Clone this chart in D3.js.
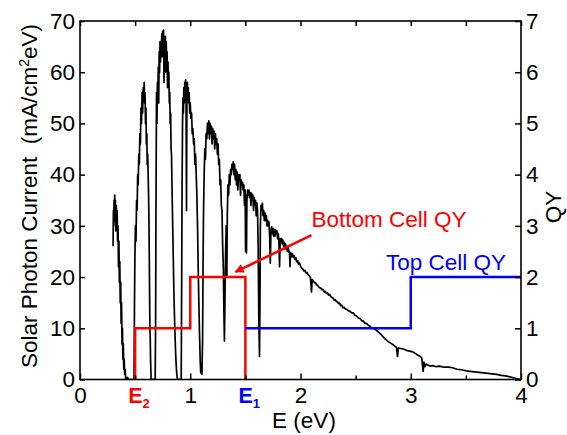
<!DOCTYPE html>
<html>
<head>
<meta charset="utf-8">
<script src="https://cdn.jsdelivr.net/npm/d3@7"></script>
<style>
  html, body { margin: 0; padding: 0; background: #fff; }
  svg { display: block; font-family: 'Liberation Sans', Arial, sans-serif; }
</style>
</head>
<body>
<svg id="chart" width="567" height="435"></svg>
<script>
// AM1.5 photon current, [E (eV), mA/cm2eV]
const solarSpectrum = [
  [0.300, 26], [0.303, 33], [0.306, 30], [0.309, 35], [0.312, 31], [0.315, 36], [0.318, 33], [0.321, 35],
  [0.325, 29], [0.329, 34], [0.333, 31], [0.337, 33], [0.341, 27], [0.345, 30], [0.349, 22], [0.353, 27],
  [0.357, 19], [0.361, 23], [0.365, 15], [0.369, 19], [0.373, 11], [0.377, 15], [0.381, 7], [0.385, 10],
  [0.389, 4], [0.393, 7], [0.397, 2], [0.401, 4], [0.405, 1], [0.410, 2], [0.415, 0], [0.430, 0.4],
  [0.440, 0], [0.490, 0],
  [0.494, 14], [0.498, 24], [0.503, 30], [0.508, 27], [0.513, 35], [0.518, 33], [0.523, 40], [0.528, 38],
  [0.533, 44], [0.538, 42], [0.543, 48], [0.548, 46], [0.553, 53], [0.558, 50], [0.563, 56], [0.568, 52],
  [0.573, 57], [0.578, 55], [0.582, 58], [0.586, 54], [0.590, 56], [0.594, 50], [0.598, 53], [0.602, 46],
  [0.606, 48], [0.610, 42], [0.614, 44], [0.618, 40], [0.622, 36], [0.626, 30], [0.630, 20], [0.634, 10],
  [0.637, 8], [0.640, 4], [0.645, 0], [0.682, 0],
  [0.686, 12], [0.690, 38], [0.694, 56], [0.698, 50], [0.702, 58], [0.706, 55], [0.710, 61], [0.714, 54],
  [0.718, 64], [0.722, 60], [0.726, 66], [0.730, 62], [0.734, 66], [0.738, 64], [0.742, 67.5], [0.746, 63],
  [0.750, 68], [0.754, 65], [0.758, 68.2], [0.762, 58], [0.766, 67], [0.770, 64], [0.774, 67], [0.778, 60],
  [0.782, 66], [0.786, 62], [0.790, 64], [0.794, 57], [0.798, 62], [0.802, 58], [0.806, 60], [0.810, 54],
  [0.814, 56], [0.818, 50], [0.822, 52], [0.826, 45], [0.830, 44], [0.835, 37], [0.840, 31], [0.845, 25],
  [0.850, 19], [0.855, 14], [0.860, 10], [0.866, 6], [0.872, 3], [0.878, 1], [0.884, 0], [0.918, 0],
  [0.922, 18], [0.926, 38], [0.930, 50], [0.934, 55], [0.938, 52], [0.942, 57], [0.946, 54], [0.950, 58],
  [0.954, 56], [0.958, 58.5], [0.962, 55], [0.966, 33], [0.970, 57], [0.974, 58], [0.978, 55], [0.982, 57],
  [0.986, 54], [0.990, 56], [0.995, 52], [1.000, 54], [1.006, 51], [1.012, 52], [1.018, 48], [1.024, 49],
  [1.030, 46], [1.036, 47], [1.042, 42], [1.048, 44], [1.054, 40], [1.060, 36], [1.066, 30], [1.072, 22],
  [1.078, 15], [1.084, 9], [1.090, 4], [1.095, 1.3], [1.100, 3], [1.106, 1], [1.112, 8],
  [1.116, 22], [1.120, 32], [1.126, 40], [1.132, 45], [1.138, 43], [1.144, 48], [1.150, 47], [1.156, 50],
  [1.162, 48], [1.168, 50.5], [1.174, 47], [1.180, 50], [1.186, 48], [1.192, 49.5], [1.198, 46], [1.204, 49],
  [1.210, 47], [1.216, 48.5], [1.222, 45], [1.228, 48], [1.234, 46], [1.240, 47], [1.246, 44], [1.252, 46],
  [1.258, 42], [1.264, 43], [1.270, 38], [1.276, 39], [1.282, 34], [1.288, 33], [1.294, 26], [1.300, 22],
  [1.306, 12], [1.310, 7.5], [1.315, 16], [1.320, 24], [1.326, 30], [1.332, 20], [1.336, 32],
  [1.342, 38], [1.348, 36], [1.354, 40], [1.360, 38], [1.366, 41], [1.372, 40], [1.378, 42], [1.384, 41],
  [1.390, 42.5], [1.396, 40], [1.402, 42], [1.408, 39], [1.414, 41], [1.420, 38], [1.426, 40.5], [1.432, 37],
  [1.438, 40], [1.444, 39], [1.450, 40], [1.456, 36], [1.462, 39], [1.468, 38], [1.474, 38.5], [1.480, 37],
  [1.486, 38], [1.492, 34], [1.498, 37], [1.502, 25], [1.506, 36], [1.510, 24.7], [1.514, 35], [1.520, 37],
  [1.526, 36], [1.532, 37], [1.538, 35.5], [1.544, 36.5], [1.550, 34], [1.556, 36.4], [1.562, 35], [1.568, 36],
  [1.574, 33], [1.580, 35.5], [1.586, 34], [1.592, 35], [1.598, 32], [1.604, 34.5], [1.610, 33], [1.616, 26],
  [1.622, 12], [1.628, 4.5], [1.632, 14], [1.636, 30], [1.642, 34], [1.648, 33], [1.654, 34.4], [1.660, 32],
  [1.666, 33], [1.672, 31], [1.678, 32.5], [1.684, 31], [1.690, 32], [1.696, 30], [1.702, 31.1], [1.708, 30],
  [1.714, 30.8], [1.720, 28], [1.726, 22.7], [1.732, 29], [1.738, 29.8], [1.744, 28.5], [1.750, 29.5], [1.756, 28],
  [1.762, 29.3], [1.768, 28], [1.774, 29.2], [1.780, 28.5], [1.786, 29], [1.792, 27.5], [1.798, 28.5], [1.804, 27],
  [1.810, 22], [1.816, 27.5], [1.822, 27], [1.828, 27.5], [1.834, 26.5], [1.840, 27.2], [1.846, 26], [1.852, 26.8],
  [1.858, 25.5], [1.864, 26.5], [1.870, 25.5], [1.876, 26], [1.882, 25], [1.888, 25.9], [1.894, 24.8], [1.900, 25],
  [1.905, 22], [1.910, 24.8], [1.918, 24], [1.926, 24.6], [1.934, 23.8], [1.942, 24.2], [1.950, 23.4], [1.958, 23.8],
  [1.966, 23], [1.974, 23.2], [1.982, 22.5], [1.990, 22.8], [2.000, 22.2], [2.010, 21.8], [2.020, 21.6], [2.030, 21.2],
  [2.040, 21.3], [2.050, 20.8], [2.060, 20.9], [2.070, 20.4], [2.080, 20.3], [2.090, 19.9], [2.100, 17.1], [2.106, 19.5],
  [2.115, 19.3], [2.125, 18.9], [2.135, 18.9], [2.145, 18.5], [2.155, 18.4], [2.165, 18.1], [2.175, 17.9], [2.185, 17.8],
  [2.195, 17.5], [2.205, 17.6], [2.215, 17.1], [2.225, 17.2], [2.235, 16.8], [2.245, 16.9], [2.255, 16.5], [2.265, 16.6],
  [2.275, 16.2], [2.285, 16.0], [2.295, 15.9], [2.305, 15.5], [2.315, 15.6], [2.325, 15.2], [2.335, 15.2], [2.345, 14.8],
  [2.355, 14.9], [2.365, 14.4], [2.375, 14.5], [2.385, 14.0], [2.395, 14.1], [2.405, 13.8], [2.420, 13.7], [2.435, 13.4],
  [2.450, 13.3], [2.465, 13.0], [2.480, 13.0], [2.495, 12.5], [2.510, 12.4], [2.525, 12.0], [2.540, 11.9], [2.555, 11.5],
  [2.570, 11.4], [2.585, 11.0], [2.600, 10.9], [2.615, 10.6], [2.630, 10.4], [2.645, 10.1], [2.660, 10.0], [2.675, 9.8],
  [2.690, 9.6], [2.705, 9.3], [2.720, 9.0], [2.735, 8.7], [2.750, 8.3], [2.765, 8.0], [2.780, 7.7], [2.795, 7.4],
  [2.810, 7.2], [2.825, 7.0], [2.840, 6.8], [2.855, 6.5], [2.870, 6.3], [2.880, 4.5], [2.888, 6.2], [2.900, 6.1],
  [2.920, 6.0], [2.940, 5.9], [2.960, 5.7], [2.980, 5.6], [3.000, 5.5], [3.020, 5.4], [3.040, 5.1], [3.060, 4.8],
  [3.080, 4.6], [3.100, 4.2], [3.112, 1.6], [3.120, 3.4], [3.130, 2.5], [3.140, 3.0], [3.160, 2.8], [3.180, 2.6],
  [3.200, 2.7], [3.230, 2.5], [3.260, 2.6], [3.300, 2.4], [3.340, 2.4], [3.380, 2.3], [3.420, 2.0], [3.460, 1.9],
  [3.500, 1.7], [3.540, 1.6], [3.580, 1.5], [3.620, 1.4], [3.660, 1.3], [3.700, 1.2], [3.740, 1.1], [3.780, 1.0],
  [3.820, 0.8], [3.860, 0.7], [3.900, 0.5], [3.940, 0.3], [3.970, 0.15], [4.000, 0]
]

// step quantum yields
const bottomCellE = [0.5, 0.5, 1.0, 1.0, 1.5, 1.5]
const bottomCellQY = [0, 1, 1, 2, 2, 0]
const topCellE = [1.5, 3.0, 3.0, 4.0]
const topCellQY = [1, 1, 2, 2]

const xTicks = [0, 1, 2, 3, 4]
const xMinorTicks = [0.5, 1.5, 2.5, 3.5]
const currentTicks = [0, 10, 20, 30, 40, 50, 60, 70]
const qyTicks = [0, 1, 2, 3, 4, 5, 6, 7]
const gapLabels = [
  { e: 0.5, sub: '2', color: '#ff0000' },
  { e: 1.5, sub: '1', color: '#0000ff' }
]

const FONT_SIZE = 22.5
const RED = '#ff0000'
const BLUE = '#0000ff'
const plot = { left: 80, right: 521, top: 21, bottom: 379.5 }

const svg = d3.select('#chart')

const x = d3.scaleLinear().domain([0, 4]).range([plot.left, plot.right])
const yCurrent = d3.scaleLinear().domain([0, 70]).range([plot.bottom, plot.top])
const yQY = d3.scaleLinear().domain([0, 7]).range([plot.bottom, plot.top])

const defs = svg.append('defs')

defs.append('clipPath')
  .attr('id', 'plot-clip')
  .append('rect')
  .attr('x', plot.left)
  .attr('y', plot.top)
  .attr('width', plot.right - plot.left)
  .attr('height', plot.bottom - plot.top)

// spectrum
const spectrumLine = d3.line()
  .x(d => x(d[0]))
  .y(d => yCurrent(d[1]))

svg.append('path')
  .datum(solarSpectrum)
  .attr('clip-path', 'url(#plot-clip)')
  .attr('d', spectrumLine)
  .attr('fill', 'none')
  .attr('stroke', '#000')
  .attr('stroke-width', 1.7)
  .attr('stroke-linejoin', 'round')

// QY steps
const qyLine = d3.line()
  .x(d => x(d[0]))
  .y(d => yQY(d[1]))

svg.append('path')
  .datum(d3.zip(bottomCellE, bottomCellQY))
  .attr('d', qyLine)
  .attr('fill', 'none')
  .attr('stroke', RED)
  .attr('stroke-width', 2.5)

svg.append('path')
  .datum(d3.zip(topCellE, topCellQY))
  .attr('d', qyLine)
  .attr('fill', 'none')
  .attr('stroke', BLUE)
  .attr('stroke-width', 2.5)

// axes
function styleAxis (g) {
  g.select('.domain').remove()
  g.attr('font-size', FONT_SIZE).attr('font-family', null)
  g.selectAll('.tick line').attr('stroke', '#000').attr('stroke-width', 1.5)
  g.selectAll('.tick text').attr('fill', '#000')
}

const intFormat = d3.format('d')

svg.append('g')
  .attr('transform', `translate(0,${plot.bottom})`)
  .call(d3.axisBottom(x).tickValues(xTicks).tickSizeInner(-6).tickSizeOuter(0).tickPadding(8).tickFormat(intFormat))
  .call(styleAxis)

svg.append('g')
  .attr('transform', `translate(0,${plot.bottom})`)
  .call(d3.axisBottom(x).tickValues(xMinorTicks).tickSizeInner(-4).tickSizeOuter(0).tickFormat(''))
  .call(styleAxis)

svg.append('g')
  .attr('transform', `translate(0,${plot.top})`)
  .call(d3.axisTop(x).tickValues(xTicks.concat(xMinorTicks)).tickSizeInner(-5).tickSizeOuter(0).tickFormat(''))
  .call(styleAxis)

svg.append('g')
  .attr('transform', `translate(${plot.left},0)`)
  .call(d3.axisLeft(yCurrent).tickValues(currentTicks).tickSizeInner(-5).tickSizeOuter(0).tickPadding(5).tickFormat(intFormat))
  .call(styleAxis)

svg.append('g')
  .attr('transform', `translate(${plot.right},0)`)
  .call(d3.axisRight(yQY).tickValues(qyTicks).tickSizeInner(-6).tickSizeOuter(0).tickPadding(5).tickFormat(intFormat))
  .call(styleAxis)

svg.append('rect')
  .attr('x', plot.left)
  .attr('y', plot.top)
  .attr('width', plot.right - plot.left)
  .attr('height', plot.bottom - plot.top)
  .attr('fill', 'none')
  .attr('stroke', '#000')
  .attr('stroke-width', 1.6)

// E2 / E1 labels under the axis
const gapText = svg.append('g')
  .attr('font-size', FONT_SIZE - 1)
  .selectAll('text')
  .data(gapLabels)
  .join('text')
  .attr('x', d => x(d.e) - 7)
  .attr('y', plot.bottom + 23.5)
  .attr('fill', d => d.color)
  .attr('font-weight', 'bold')

gapText.append('tspan').text('E')
gapText.append('tspan')
  .attr('font-size', 13)
  .attr('dy', 5)
  .text(d => d.sub)

// axis titles
svg.append('text')
  .attr('x', 304)
  .attr('y', 428)
  .attr('text-anchor', 'middle')
  .attr('font-size', FONT_SIZE)
  .text('E (eV)')

const leftTitle = svg.append('text')
  .attr('transform', 'translate(37,196) rotate(-90)')
  .attr('text-anchor', 'middle')
  .attr('font-size', FONT_SIZE)
  .style('white-space', 'pre')

leftTitle.append('tspan').text('Solar Photon Current  (mA/cm')
leftTitle.append('tspan').attr('font-size', 14).attr('dy', -8).text('2')
leftTitle.append('tspan').attr('dy', 8).text('eV)')

svg.append('text')
  .attr('transform', 'translate(561,207) rotate(-90)')
  .attr('text-anchor', 'middle')
  .attr('font-size', FONT_SIZE)
  .text('QY')

// annotations
defs.append('marker')
  .attr('id', 'arrow-head')
  .attr('viewBox', '0 0 10 10')
  .attr('refX', 9)
  .attr('refY', 5)
  .attr('markerUnits', 'userSpaceOnUse')
  .attr('markerWidth', 11)
  .attr('markerHeight', 9)
  .attr('orient', 'auto')
  .append('path')
  .attr('d', 'M0,0 L10,5 L0,10 Z')
  .attr('fill', RED)

svg.append('line')
  .attr('x1', x(2.10))
  .attr('y1', yQY(2.82))
  .attr('x2', x(1.41))
  .attr('y2', yQY(2.10))
  .attr('stroke', RED)
  .attr('stroke-width', 2.5)
  .attr('marker-end', 'url(#arrow-head)')

svg.append('text')
  .attr('x', x(2.10))
  .attr('y', yQY(2.98))
  .attr('font-size', FONT_SIZE)
  .attr('fill', RED)
  .text('Bottom Cell QY')

svg.append('text')
  .attr('x', x(2.775))
  .attr('y', yQY(2.14))
  .attr('font-size', FONT_SIZE)
  .attr('fill', BLUE)
  .text('Top Cell QY')
</script>
</body>
</html>
